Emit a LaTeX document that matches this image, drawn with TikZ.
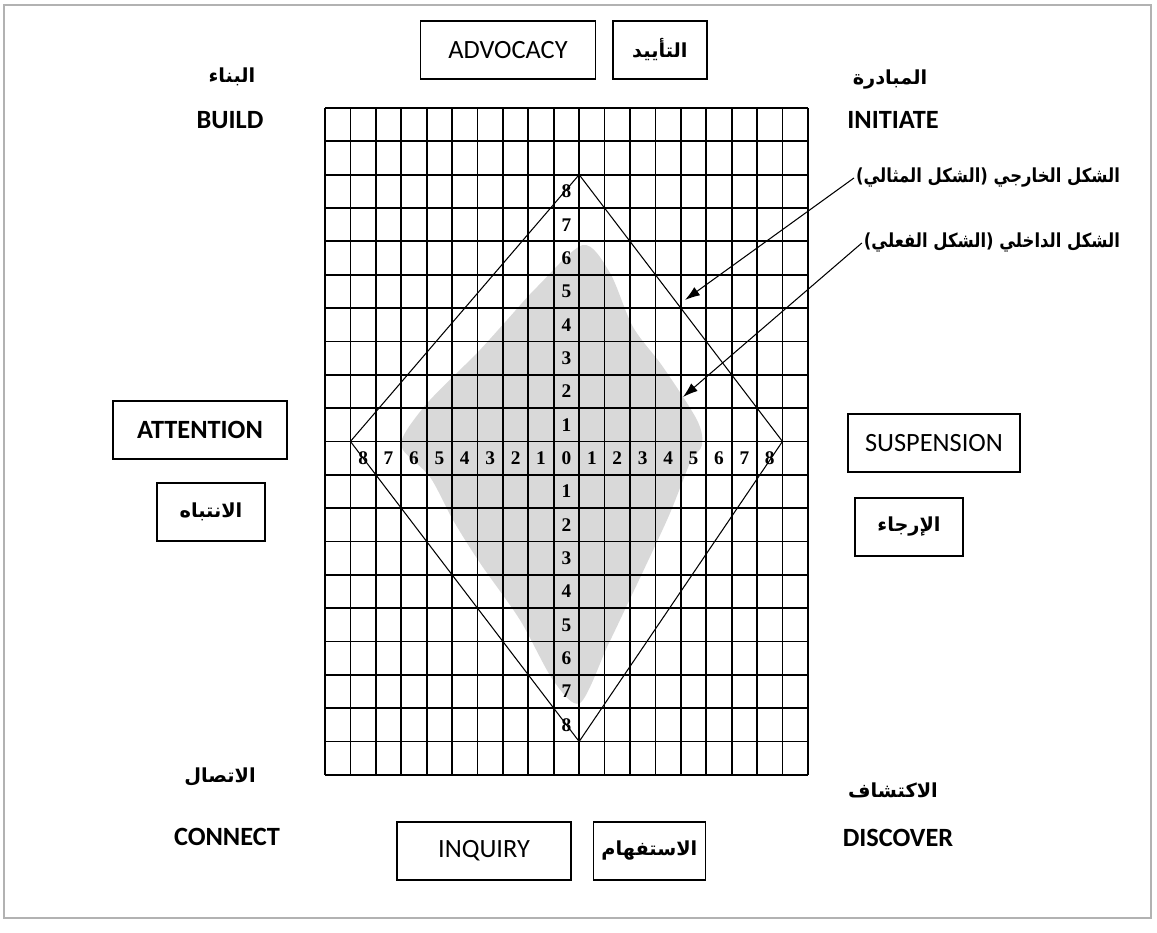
\documentclass[tikz,border=0pt]{standalone}
\usepackage{fontspec}
\setmainfont{Carlito}
\newfontfamily\arabicfont[Script=Arabic]{DejaVu Sans}
\newfontfamily\numfont{Liberation Serif}
\TeXXeTstate=1
\usetikzlibrary{arrows.meta, positioning}
\newcommand{\artext}[1]{{\arabicfont\bfseries\beginR #1\endR}}

\begin{document}
\begin{tikzpicture}[
  x=0.02cm, y=-0.02cm,
  box/.style={draw, line width=0.8pt, minimum height=1.16cm, inner sep=0pt, font=\fontsize{15}{18}\selectfont},
  arbox/.style={box, font=\fontsize{11}{13}\selectfont},
  corner/.style={font=\fontsize{15}{18}\selectfont\bfseries, inner sep=1pt},
  arlbl/.style={font=\fontsize{11}{13}\selectfont, inner sep=1pt},
  gridline/.style={line width=1pt},
  frame/.style={line width=0.6pt},
  num/.style={font=\numfont\bfseries\fontsize{11}{12}\selectfont, inner sep=0pt},
  pointer/.style={-{Latex[length=3mm, width=2mm]}, line width=0.6pt}
]
\useasboundingbox (0,0) rectangle (1157,933);
\draw[gray!60, line width=0.6pt] (4,5) rectangle (1151,918);

% top
\node[box, minimum width=3.5cm] (advocacy) at (508,50) {ADVOCACY};
\node[arbox, minimum width=1.88cm, right=0.32cm of advocacy] (taeed) {\artext{التأييد}};
\node[arlbl] (binaa) at (232,77) {\artext{البناء}};
\node[corner] (build) at (230,120) {BUILD};
\node[arlbl] (mubadara) at (890,80) {\artext{المبادرة}};
\node[corner] (initiate) at (893,120) {INITIATE};

% left and right
\node[box, minimum width=3.48cm, font=\fontsize{15}{18}\selectfont\bfseries] (attention) at (200,430) {ATTENTION};
\node[arbox, minimum width=2.16cm] (intibah) at (211,512) {\artext{الانتباه}};
\node[box, minimum width=3.44cm] (suspension) at (934,443) {SUSPENSION};
\node[arbox, minimum width=2.16cm] (irjaa) at (909,527) {\artext{الإرجاء}};

% bottom
\node[arlbl] (ittisal) at (220,777) {\artext{الاتصال}};
\node[corner] (connect) at (227,837) {CONNECT};
\node[box, minimum width=3.48cm] (inquiry) at (484,851) {INQUIRY};
\node[arbox, minimum width=2.24cm, right=0.42cm of inquiry] (istifham) {\artext{الاستفهام}};
\node[arlbl] (iktishaf) at (893,790) {\artext{الاكتشاف}};
\node[corner] (discover) at (898,838) {DISCOVER};

% actual shape
\fill[gray!30] plot[smooth cycle, tension=0.5] coordinates {
  (583,245) (610,273) (633,327) (663,367) (697,420) (702,445) (690,463)
  (667,520) (620,620) (607,647) (580,703) (553,680) (520,620) (480,563)
  (453,520) (430,477) (403,450) (405,433) (430,400) (477,353) (507,320) (537,287)};

% grid with numbers
\begin{scope}[shift={(325,108)}, x=0.5084cm, y=-0.667cm]
  \foreach \i in {0,...,19}
    \draw[gridline] (\i,0) -- (\i,20);
  \foreach \j in {0,...,20}
    \draw[gridline] (0,\j) -- (19,\j);
  \coordinate (dtop) at (10,2);
  \coordinate (dright) at (18,10);
  \coordinate (dbottom) at (10,19);
  \coordinate (dleft) at (1,10);
  \draw[frame] (dtop) -- (dright) -- (dbottom) -- (dleft) -- cycle;
  \foreach \c in {1,...,17} {
    \pgfmathtruncatemacro{\v}{abs(\c-9)}
    \node[num] (h\c) at (\c+0.5,10.5) {\v};
  }
  \foreach \r in {2,...,18} {
    \ifnum\r=10 \else
      \pgfmathtruncatemacro{\v}{abs(\r-10)}
      \node[num] (v\r) at (9.5,\r+0.5) {\v};
    \fi
  }
\end{scope}

% legend
\node[arlbl, anchor=east] (outerlbl) at (1122,178) {\scalebox{0.85}[1]{\artext{الشكل الخارجي (الشكل المثالي)}}};
\node[arlbl, anchor=east] (innerlbl) at (1122,243) {\scalebox{0.85}[1]{\artext{الشكل الداخلي (الشكل الفعلي)}}};
\coordinate (outerpt) at (685,300);
\coordinate (innerpt) at (683,397);
\draw[pointer] (outerlbl.west) -- (outerpt);
\draw[pointer] (innerlbl.west) -- (innerpt);
\end{tikzpicture}
\end{document}
